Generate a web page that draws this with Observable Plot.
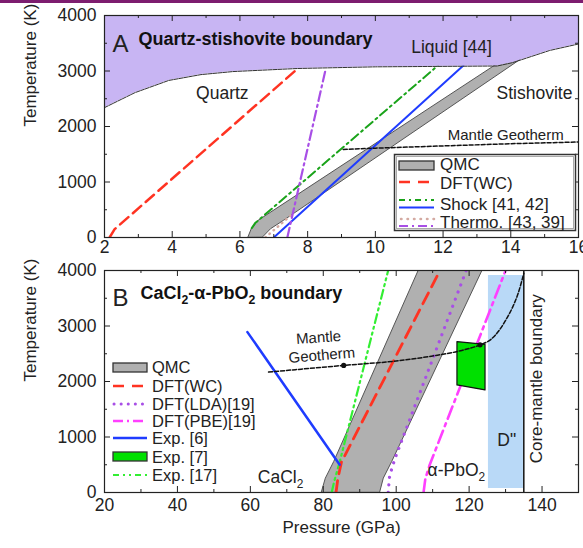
<!DOCTYPE html>
<html><head><meta charset="utf-8">
<script src="https://cdn.jsdelivr.net/npm/d3@7"></script>
<script src="https://cdn.jsdelivr.net/npm/@observablehq/plot@0.6"></script>
<style>
body{margin:0;background:#fff;}
#wrap{position:relative;width:583px;height:548px;overflow:hidden;font-family:"Liberation Sans",Arial,Helvetica,sans-serif;}
#topbar{position:absolute;left:0;top:0;width:583px;height:3px;background:#7d1d6f;}
#pa{position:absolute;left:0;top:0}
#pb{position:absolute;left:0;top:255px}
#leg{position:absolute;left:0;top:0}
</style></head><body>
<div id="wrap"><div id="pa"></div><div id="pb"></div><svg id="leg" width="583" height="548"></svg><div id="topbar"></div></div>
<script>
// ---------- Panel A data (Pressure GPa, Temperature K) ----------
const meltP = [2, 2.9, 3.9, 4.85, 5.8, 7.7, 10, 13.6, 14.05, 15.15, 16.1];
const meltT = [2340, 2610, 2830, 2935, 2990, 3045, 3075, 3090, 3150, 3370, 3500];
const qmcA_T  = [0, 150, 300, 3200];
const qmcA_lo = [6.25, 6.35, 6.55, 13.8];
const qmcA_hi = [6.68, 6.92, 7.3, 14.29];
const dftA_P = [2.15, 2.3, 7.72];   const dftA_T = [0, 150, 3050];
const shock41_P = [6.35, 6.45, 11.85]; const shock41_T = [170, 260, 3100];
const shock42_P = [7.0, 12.6];      const shock42_T = [0, 3100];
const thermo43_P = [6.75, 7.6];     const thermo43_T = [0, 450];
const thermo39_P = [7.4, 8.52];     const thermo39_T = [0, 3000];
const geoA_P = [9.05, 10, 12, 14, 16]; const geoA_T = [1585, 1610, 1650, 1690, 1720];
const xTicksA = [2, 4, 6, 8, 10, 12, 14, 16];
const xMinorA = [3, 5, 7, 9, 11, 13, 15];
const yTicks = [0, 1000, 2000, 3000, 4000];
const yMinor = [500, 1500, 2500, 3500];
const labelsA = [
  {P: 5.48, T: 2600, text: "Quartz"},
  {P: 14.7, T: 2600, text: "Stishovite"},
  {P: 12.25, T: 3420, text: "Liquid [44]"}
];
const geoLabelA = [{P: 13.85, T: 1840, text: "Mantle Geotherm"}];

// ---------- Panel B data ----------
const qmcB_T  = [0, 250, 550, 4000];
const qmcB_lo = [79.6, 80.7, 83.0, 106.2];
const qmcB_hi = [95.6, 96.6, 98.9, 123.7];
const dftB_P = [83.5, 84, 85, 112];        const dftB_T = [0, 250, 550, 4000];
const ldaB_P = [97.8, 98.2, 99.6, 119.2];  const ldaB_T = [0, 300, 600, 4000];
const pbeB_P = [107.5, 108, 109.2, 130];   const pbeB_T = [0, 250, 500, 4000];
const exp6_P = [59.2, 84.5];               const exp6_T = [2890, 500];
const exp7_P = [116.8, 124.5]; const exp7_lo = [1930, 1840]; const exp7_hi = [2710, 2660];
const exp17_P = [82.3, 83, 84.5, 97.8];    const exp17_T = [0, 200, 550, 4000];
const geoB_P = [65, 85.6, 100, 110, 118, 123, 126, 128, 130, 132, 133.5, 135];
const geoB_T = [2170, 2290, 2370, 2460, 2560, 2660, 2760, 2900, 3100, 3350, 3600, 3950];
const geoDotP = [85.6, 123]; const geoDotT = [2290, 2660];
const dppP = [125.3, 134.9]; const dppT = [72, 3910];
const cmbP = [135];
const xTicksB = [20, 40, 60, 80, 100, 120, 140];
const xMinorB = [30, 50, 70, 90, 110, 130, 150];
const labelsB = [
  {P: 68.3, T: 280, text: "CaCl_2"},
  {P: 116.5, T: 400, text: "α-PbO_2"},
  {P: 130.3, T: 940, text: "D\""}
];
const geoLabelB = [{P: 78.7, T: 2790, text: "Mantle", r: -4}, {P: 79.6, T: 2470, text: "Geotherm", r: -5}];

// ---------- helpers ----------
const FONT = '"Liberation Sans", Arial, Helvetica, sans-serif';
const zipPT = (P, T) => P.map((p, i) => ({P: p, T: T[i]}));
const W = 583, ML = 104, MR = 5;
const FW = W - ML - MR;
const FH = 222;
const plain = d => String(d);

function ticksMarks(xMajor, xMinor) {
  return [
    Plot.tickX(xMajor, {x: d => d, insetTop: FH - 6, stroke: "#222"}),
    Plot.tickX(xMajor, {x: d => d, insetBottom: FH - 6, stroke: "#222"}),
    Plot.tickX(xMinor, {x: d => d, insetTop: FH - 3, stroke: "#222"}),
    Plot.tickX(xMinor, {x: d => d, insetBottom: FH - 3, stroke: "#222"}),
    Plot.tickY(yTicks, {y: d => d, insetRight: FW - 6, stroke: "#222"}),
    Plot.tickY(yTicks, {y: d => d, insetLeft: FW - 6, stroke: "#222"}),
    Plot.tickY(yMinor, {y: d => d, insetRight: FW - 3, stroke: "#222"}),
    Plot.tickY(yMinor, {y: d => d, insetLeft: FW - 3, stroke: "#222"})
  ];
}

function subscripts(svg) {
  svg.querySelectorAll("text").forEach(el => {
    const t = el.textContent;
    if (t.includes("_2")) {
      const parts = t.split("_2");
      let html = "";
      parts.forEach((p, i) => {
        if (i > 0) html += `<tspan font-size="0.68em" dy="5">2</tspan>` + (p ? `<tspan dy="-5">${p}</tspan>` : "");
        else html += p;
      });
      el.innerHTML = html;
    }
  });
}

// ---------- Panel A ----------
const melt = zipPT(meltP, meltT);
const qmcA = qmcA_T.map((t, i) => ({T: t, lo: qmcA_lo[i], hi: qmcA_hi[i]}));
const plotA = Plot.plot({
  width: W, height: 262,
  marginLeft: ML, marginRight: MR, marginTop: 15, marginBottom: 25,
  style: {fontFamily: FONT, fontSize: "17px", color: "#222", background: "transparent"},
  x: {domain: [2, 16]},
  y: {domain: [0, 4000]},
  marks: [
    Plot.areaX(qmcA, {y: "T", x1: "lo", x2: "hi", fill: "#b0b0b0", stroke: "#555", strokeWidth: 1, clip: true}),
    Plot.line(zipPT(dftA_P, dftA_T), {x: "P", y: "T", stroke: "#ff3322", strokeWidth: 2.5, strokeDasharray: "11,6", clip: true}),
    Plot.line(zipPT(thermo43_P, thermo43_T), {x: "P", y: "T", stroke: "#d4aaa2", strokeWidth: 2.5, strokeDasharray: "0.5,5", strokeLinecap: "round", clip: true}),
    Plot.line(zipPT(shock41_P, shock41_T), {x: "P", y: "T", stroke: "#1aa31a", strokeWidth: 2, strokeDasharray: "9,4,2,4", clip: true}),
    Plot.line(zipPT(shock42_P, shock42_T), {x: "P", y: "T", stroke: "#1f3cff", strokeWidth: 2, clip: true}),
    Plot.line(zipPT(thermo39_P, thermo39_T), {x: "P", y: "T", stroke: "#a84fe6", strokeWidth: 2.2, strokeDasharray: "10,4,2,4", clip: true}),
    Plot.areaY(melt, {x: "P", y1: "T", y2: 4000, fill: "#c8b5f3", clip: true}),
    Plot.line(melt, {x: "P", y: "T", stroke: "#333", strokeWidth: 1, strokeDasharray: "4,1", clip: true}),
    Plot.line(zipPT(geoA_P, geoA_T), {x: "P", y: "T", stroke: "#111", strokeWidth: 1.5, strokeDasharray: "4,2", clip: true}),
    Plot.text(labelsA, {x: "P", y: "T", text: "text", fontSize: 17.5, fill: "#222"}),
    Plot.text(geoLabelA, {x: "P", y: "T", text: "text", fontSize: 15, fill: "#222"}),
    Plot.text(["A"], {frameAnchor: "top-left", dx: 8, dy: 19, textAnchor: "start", fontSize: 24, fill: "#222"}),
    Plot.text(["Quartz-stishovite boundary"], {frameAnchor: "top-left", dx: 34, dy: 17, textAnchor: "start", fontSize: 18, fontWeight: "bold", fill: "#111"}),
    Plot.frame({stroke: "#222", strokeWidth: 1.2}),
    ...ticksMarks(xTicksA, xMinorA),
    Plot.axisX({ticks: xTicksA, tickSize: 0, tickPadding: 3, label: null, fontSize: 17.5, tickFormat: plain}),
    Plot.axisY({ticks: yTicks, tickSize: 0, tickPadding: 8, label: null, fontSize: 17.5, tickFormat: plain}),
    Plot.text(["Temperature (K)"], {frameAnchor: "left", rotate: -90, dx: -74, fontSize: 17, fill: "#222"})
  ]
});
document.getElementById("pa").appendChild(plotA);

// ---------- Panel B ----------
const qmcB = qmcB_T.map((t, i) => ({T: t, lo: qmcB_lo[i], hi: qmcB_hi[i]}));
const exp7 = exp7_P.map((p, i) => ({P: p, lo: exp7_lo[i], hi: exp7_hi[i]}));
const plotB = Plot.plot({
  width: W, height: 293,
  marginLeft: ML, marginRight: MR, marginTop: 15, marginBottom: 56,
  style: {fontFamily: FONT, fontSize: "17px", color: "#222", background: "transparent"},
  x: {domain: [20, 150]},
  y: {domain: [0, 4000]},
  marks: [
    Plot.rect([{P1: dppP[0], P2: dppP[1], T1: dppT[0], T2: dppT[1]}], {x1: "P1", x2: "P2", y1: "T1", y2: "T2", fill: "#b9d9f7"}),
    Plot.areaX(qmcB, {y: "T", x1: "lo", x2: "hi", fill: "#b0b0b0", stroke: "#555", strokeWidth: 1, clip: true}),
    Plot.line(zipPT(exp17_P, exp17_T), {x: "P", y: "T", stroke: "#33ee33", strokeWidth: 2.2, strokeDasharray: "9,4,2,4,2,4", clip: true}),
    Plot.line(zipPT(dftB_P, dftB_T), {x: "P", y: "T", stroke: "#ff3322", strokeWidth: 2.8, strokeDasharray: "12,7", clip: true}),
    Plot.line(zipPT(ldaB_P, ldaB_T), {x: "P", y: "T", stroke: "#a84fe6", strokeWidth: 3.2, strokeDasharray: "0.1,7.5", strokeLinecap: "round", clip: true}),
    Plot.line(zipPT(pbeB_P, pbeB_T), {x: "P", y: "T", stroke: "#ff40ff", strokeWidth: 2.6, strokeDasharray: "13,5,3,5", clip: true}),
    Plot.line(zipPT(exp6_P, exp6_T), {x: "P", y: "T", stroke: "#1f3cff", strokeWidth: 2.5, clip: true}),
    Plot.areaY(exp7, {x: "P", y1: "lo", y2: "hi", fill: "#00e000", stroke: "#111", strokeWidth: 1.2}),
    Plot.line(zipPT(geoB_P, geoB_T), {x: "P", y: "T", stroke: "#111", strokeWidth: 1.5, strokeDasharray: "4,2", curve: "monotone-x", clip: true}),
    Plot.dot(zipPT(geoDotP, geoDotT), {x: "P", y: "T", r: 2.6, fill: "#111"}),
    Plot.ruleX(cmbP, {x: d => d, stroke: "#111", strokeWidth: 1.5}),
    Plot.text(labelsB, {x: "P", y: "T", text: "text", fontSize: 17.5, fill: "#222"}),
    Plot.text(geoLabelB, {x: "P", y: "T", text: "text", rotate: "r", fontSize: 15, fill: "#222"}),
    Plot.text(["Core-mantle boundary"], {x: () => 138.4, y: () => 2050, rotate: -90, fontSize: 17, fill: "#222"}),
    Plot.text(["B"], {frameAnchor: "top-left", dx: 8, dy: 18, textAnchor: "start", fontSize: 24, fill: "#222"}),
    Plot.text(["CaCl_2-α-PbO_2 boundary"], {frameAnchor: "top-left", dx: 36, dy: 16, textAnchor: "start", fontSize: 18, fontWeight: "bold", fill: "#111"}),
    Plot.frame({stroke: "#222", strokeWidth: 1.2}),
    ...ticksMarks(xTicksB, xMinorB),
    Plot.axisX({ticks: xTicksB, tickSize: 0, tickPadding: 6, label: null, fontSize: 17.5, tickFormat: plain}),
    Plot.axisY({ticks: yTicks, tickSize: 0, tickPadding: 8, label: null, fontSize: 17.5, tickFormat: plain}),
    Plot.text(["Temperature (K)"], {frameAnchor: "left", rotate: -90, dx: -74, fontSize: 17, fill: "#222"}),
    Plot.text(["Pressure (GPa)"], {frameAnchor: "bottom", dy: 40, fontSize: 17, fill: "#222"})
  ]
});
subscripts(plotB);
document.getElementById("pb").appendChild(plotB);

// ---------- Legends ----------
const legendA = [
  {label: "QMC", y: 164},
  {label: "DFT(WC)", y: 183},
  {label: "Shock [41, 42]", y: 204},
  {label: "Thermo. [43, 39]", y: 222}
];
const legendB = [
  {label: "QMC", y: 367},
  {label: "DFT(WC)", y: 386},
  {label: "DFT(LDA)[19]", y: 404},
  {label: "DFT(PBE)[19]", y: 421},
  {label: "Exp. [6]", y: 438},
  {label: "Exp. [7]", y: 457},
  {label: "Exp. [17]", y: 475}
];
const leg = d3.select("#leg");
function seg(x1, x2, y, stroke, sw, dash, cap) {
  leg.append("line").attr("x1", x1).attr("x2", x2).attr("y1", y).attr("y2", y)
    .attr("stroke", stroke).attr("stroke-width", sw)
    .attr("stroke-dasharray", dash || null).attr("stroke-linecap", cap || "butt");
}
function box(x, y, w, h, fill) {
  leg.append("rect").attr("x", x).attr("y", y).attr("width", w).attr("height", h)
    .attr("fill", fill).attr("stroke", "#333").attr("stroke-width", 1.3);
}
function txt(x, y, s, size) {
  leg.append("text").attr("x", x).attr("y", y).attr("dy", "0.35em").attr("font-size", size)
    .attr("fill", "#222").attr("font-family", FONT).text(s);
}
// Panel A legend
leg.append("rect").attr("x", 394.5).attr("y", 154.5).attr("width", 181).attr("height", 76)
  .attr("fill", "#fff").attr("stroke", "#333").attr("stroke-width", 1.5);
leg.append("rect").attr("x", 396.5).attr("y", 156.5).attr("width", 177).attr("height", 72)
  .attr("fill", "none").attr("stroke", "#aaa").attr("stroke-width", 1);
box(399, 161, 35, 9, "#b0b0b0");
seg(399, 434, 182, "#ff3322", 2.5, "11,8");
seg(399, 434, 200, "#1aa31a", 2, "6,4,2,4");
seg(399, 434, 207.5, "#1f3cff", 2.2);
seg(401, 434, 219, "#d4aaa2", 2.5, "0.5,6", "round");
seg(399, 434, 226, "#a84fe6", 2.2, "9,4,2,4");
legendA.forEach(d => txt(440, d.y, d.label, 17));
// Panel B legend
box(113, 363, 34, 9, "#b0b0b0");
seg(113, 147, 386, "#ff3322", 2.5, "11,8");
seg(114, 147, 404, "#a84fe6", 3, "0.1,7", "round");
seg(113, 147, 421, "#ff40ff", 2.5, "10,4,2,4");
seg(113, 147, 438, "#1f3cff", 2.5);
box(113, 452, 34, 9, "#00e000");
seg(113, 147, 475, "#33ee33", 2, "6,4,2,4,2,4");
legendB.forEach(d => txt(152, d.y, d.label, 16.5));
</script>
</body></html>
